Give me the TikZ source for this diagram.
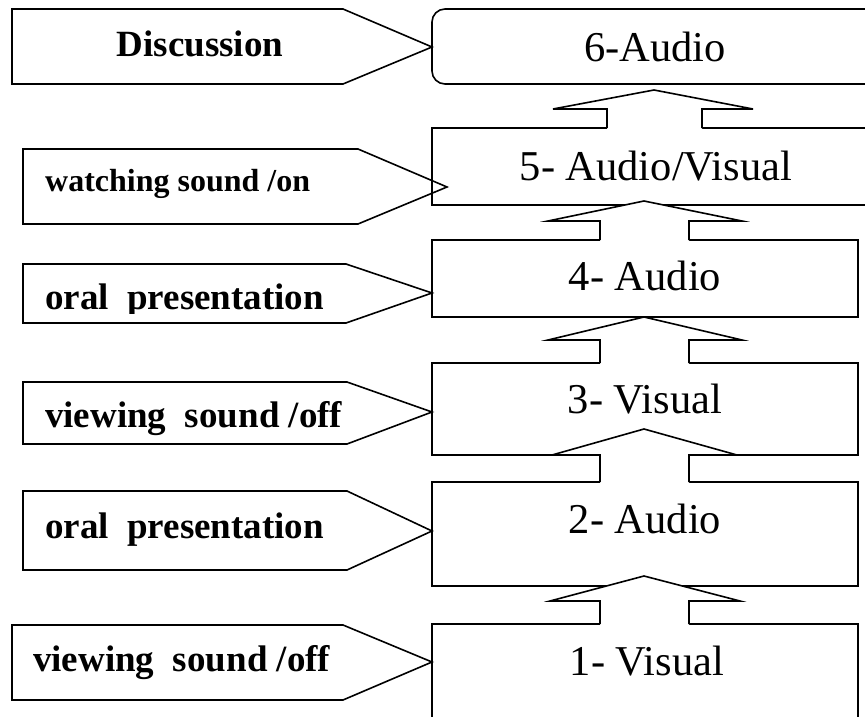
\documentclass[tikz,border=0pt]{standalone}
\usepackage{fontspec}
\setmainfont{Liberation Serif}
\newcommand\boxfnt{\fontsize{42.5}{50}\selectfont}
\newcommand\lblfnt{\fontsize{37}{44}\selectfont\bfseries}
\newcommand\lblfntsmall{\fontsize{32}{38}\selectfont\bfseries}
\begin{document}
\begin{tikzpicture}[x=1pt,y=-1pt,
  lw/.style={line width=1.6pt},
  stagebox/.style={lw,draw,fill=white,inner sep=0pt,outer sep=0pt,anchor=north west},
  boxtxt/.style={inner sep=0pt,anchor=base,font=\boxfnt},
  lbltxt/.style={inner sep=0pt,anchor=base west,font=\lblfnt},
  pent/.style={lw,draw,line join=miter},
  blk/.style={lw,draw,line join=miter}]
\useasboundingbox (0,0) rectangle (865,717);
% stage boxes
\node[stagebox,rounded corners=13pt,minimum width=453pt,minimum height=75pt] (b6) at (432,9) {};
\node[stagebox,minimum width=453pt,minimum height=77pt] (b5) at (432,128) {};
\node[stagebox,minimum width=426pt,minimum height=77pt] (b4) at (432,240) {};
\node[stagebox,minimum width=426pt,minimum height=92pt] (b3) at (432,363) {};
\node[stagebox,minimum width=426pt,minimum height=104pt] (b2) at (432,482) {};
\node[stagebox,minimum width=426pt,minimum height=120pt] (b1) at (432,624) {};
% box texts
\node[boxtxt] (t6) at (655,62) {6-Audio};
\node[boxtxt] (t5) at (656,180) {5- Audio/Visual};
\node[boxtxt] (t4) at (645,290) {4- Audio};
\node[boxtxt] (t3) at (645,413) {3- Visual};
\node[boxtxt] (t2) at (645,533) {2- Audio};
\node[boxtxt] (t1) at (647,675) {1- Visual};
% pentagon labels
\draw[pent] (12,9) -- (343,9) -- (432,47) -- (343,84) -- (12,84) -- cycle;
\draw[pent] (23,149) -- (358,149) -- (447,187) -- (358,224) -- (23,224) -- cycle;
\draw[pent] (23,264) -- (346,264) -- (432,293) -- (346,323) -- (23,323) -- cycle;
\draw[pent] (23,382) -- (347,382) -- (432,412) -- (347,444) -- (23,444) -- cycle;
\draw[pent] (23,491) -- (347,491) -- (432,531) -- (347,570) -- (23,570) -- cycle;
\draw[pent] (12,625) -- (343,625) -- (432,662) -- (343,700) -- (12,700) -- cycle;
\node[inner sep=0pt,anchor=base,font=\lblfnt] (l6) at (200,57) {Discussion};
\node[lbltxt,font=\lblfntsmall] (l5) at (45,191) {watching sound /on};
\begin{scope}
\clip (23,264) rectangle (358,313);
\node[lbltxt] (l4) at (45,309) {oral~~presentation};
\end{scope}
\node[lbltxt] (l3) at (45,427) {viewing~~sound /off};
\node[lbltxt] (l2) at (45,538) {oral~~presentation};
\node[lbltxt] (l1) at (33,671) {viewing~~sound /off};
% block up arrows: sl sr sb hb hl hr tx ty
\newcommand\blkup[8]{%
  \fill[white] (#1,#3+1) -- (#1,#4) -- (#5,#4) -- (#7,#8) -- (#6,#4) -- (#2,#4) -- (#2,#3+1) -- cycle;
  \draw[blk] (#1,#3) -- (#1,#4) -- (#5,#4) -- (#7,#8) -- (#6,#4) -- (#2,#4) -- (#2,#3);}
\blkup{607}{702}{128}{109}{553}{753}{654}{90}
\blkup{600}{689}{240}{221}{548}{742}{644}{201}
\blkup{600}{689}{363}{340}{548}{742}{644}{317}
\blkup{600}{689}{482}{455}{552}{737}{644}{429}
\blkup{600}{689}{624}{601}{550}{740}{644}{576}
\end{tikzpicture}
\end{document}
